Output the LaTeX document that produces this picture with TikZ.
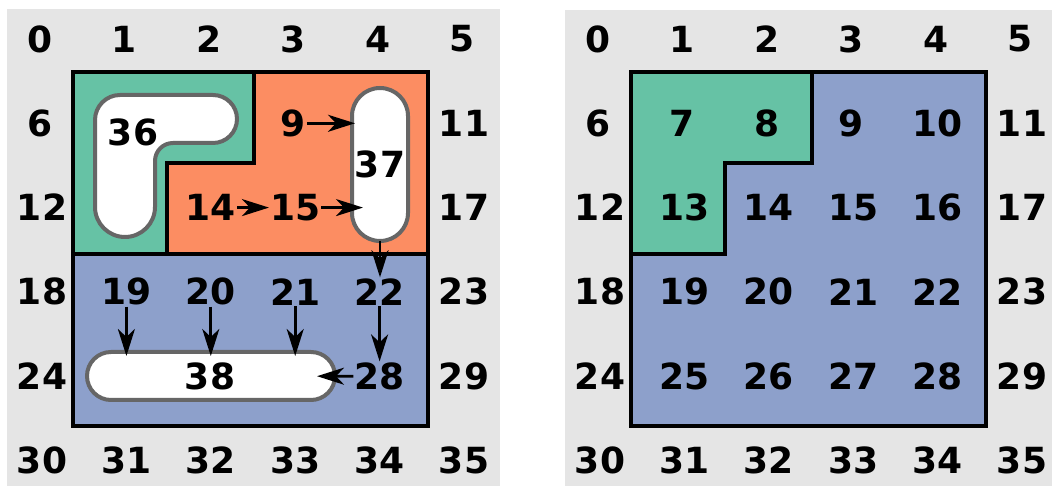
\documentclass[tikz,border=0pt]{standalone}
\usepackage{fontspec}
\setmainfont{DejaVu Sans}
\usetikzlibrary{arrows.meta}
\definecolor{bggrey}{HTML}{E5E5E5}
\definecolor{sgreen}{HTML}{66C2A5}
\definecolor{sorange}{HTML}{FC8D62}
\definecolor{sblue}{HTML}{8DA0CB}
\definecolor{blobedge}{HTML}{666666}
\begin{document}
\begin{tikzpicture}[x=1pt,y=1pt,
  lbl/.style={inner sep=1pt,font=\fontsize{36}{40}\selectfont\bfseries},
  region/.style={draw=black,line width=4pt,line join=miter},
  blob/.style={fill=white,draw=blobedge,line width=4pt},
  conn/.style={line width=2.8pt,-{Stealth[length=27pt,width=17pt,inset=8pt]}}]
\useasboundingbox (0,0) rectangle (1053,486);
% backgrounds
\fill[bggrey] (7,0) rectangle (500,477);
\fill[bggrey] (565,0) rectangle (1052,476);
% ---------- left panel ----------
\fill[sgreen] (73,414) -- (254,414) -- (254,323) -- (167,323) -- (167,232) -- (73,232) -- cycle;
\fill[sorange] (254,414) -- (428,414) -- (428,232) -- (167,232) -- (167,323) -- (254,323) -- cycle;
\fill[sblue] (73,232) rectangle (428,60);
\draw[region] (254,414) -- (254,323) -- (167,323) -- (167,232);
\draw[region] (73,232) -- (428,232);
\draw[region] (73,60) rectangle (428,414);
% blobs
\draw[blob] (95,279) -- (95,366) arc[start angle=180,end angle=90,radius=25]
  -- (213,391) arc[start angle=90,end angle=-90,radius=24]
  -- (173,343) arc[start angle=90,end angle=180,radius=18]
  -- (155,279) arc[start angle=0,end angle=-180,radius=30] -- cycle;
\draw[blob,rounded corners=28] (352,245) rectangle (408,398);
\draw[blob,rounded corners=24] (87,86) rectangle (335,134);
\node[lbl] (b36) at (133,354) {36};
\node[lbl] (b37) at (380,322) {37};
\node[lbl] (b38) at (210,110) {38};
\coordinate (e37a) at (355,362.7);
\coordinate (e37b) at (363,278.4);
\coordinate (s37) at (380,245);
\coordinate (e38) at (317,109.8);
\coordinate (t38) at (0,130);
% labels left
\foreach \n/\c/\r in {0/0/0,1/1/0,2/2/0,3/3/0,4/4/0,5/5/0,6/0/1,9/3/1}
  \node[lbl] (L\n) at ({40+84.4*\c},{447-84.3*\r}) {\n};
\foreach \n/\c/\r in {11/5/1,12/0/2,17/5/2,18/0/3,23/5/3,24/0/4,29/5/4,
  30/0/5,31/1/5,32/2/5,33/3/5,34/4/5,35/5/5,
  14/2/2,15/3/2,19/1/3,20/2/3,21/3/3,22/4/3,28/4/4}
  \node[lbl] (L\n) at ({42+84.4*\c},{447-84.3*\r}) {\n};
% connectors
\draw[conn] (L9.east) -- (e37a);
\draw[conn] (L14.east) -- (L15.west);
\draw[conn] (L15.east) -- (e37b);
\draw[conn] (s37) -- (s37 |- L22.north);
\draw[conn] (L19.south) -- (L19.south |- t38);
\draw[conn] (L20.south) -- (L20.south |- t38);
\draw[conn] (L21.south) -- (L21.south |- t38);
\draw[conn] (L22.south) -- (L28.north);
\draw[conn] (L28.west) -- (e38);
% ---------- right panel ----------
\fill[sblue] (631,60) rectangle (986,414);
\fill[sgreen] (631,414) -- (812,414) -- (812,323) -- (725,323) -- (725,232) -- (631,232) -- cycle;
\draw[region] (812,414) -- (812,323) -- (725,323) -- (725,232) -- (631,232);
\draw[region] (631,60) rectangle (986,414);
\foreach \r in {0,...,5}
  \foreach \c in {0,...,5}
  {\pgfmathtruncatemacro{\n}{6*\r+\c}
   \pgfmathsetmacro{\dx}{ifthenelse(\n>9,2,0)}
   \node[lbl] (R\n) at ({598+\dx+84.4*\c},{447-84.3*\r}) {\n};}
\end{tikzpicture}
\end{document}
